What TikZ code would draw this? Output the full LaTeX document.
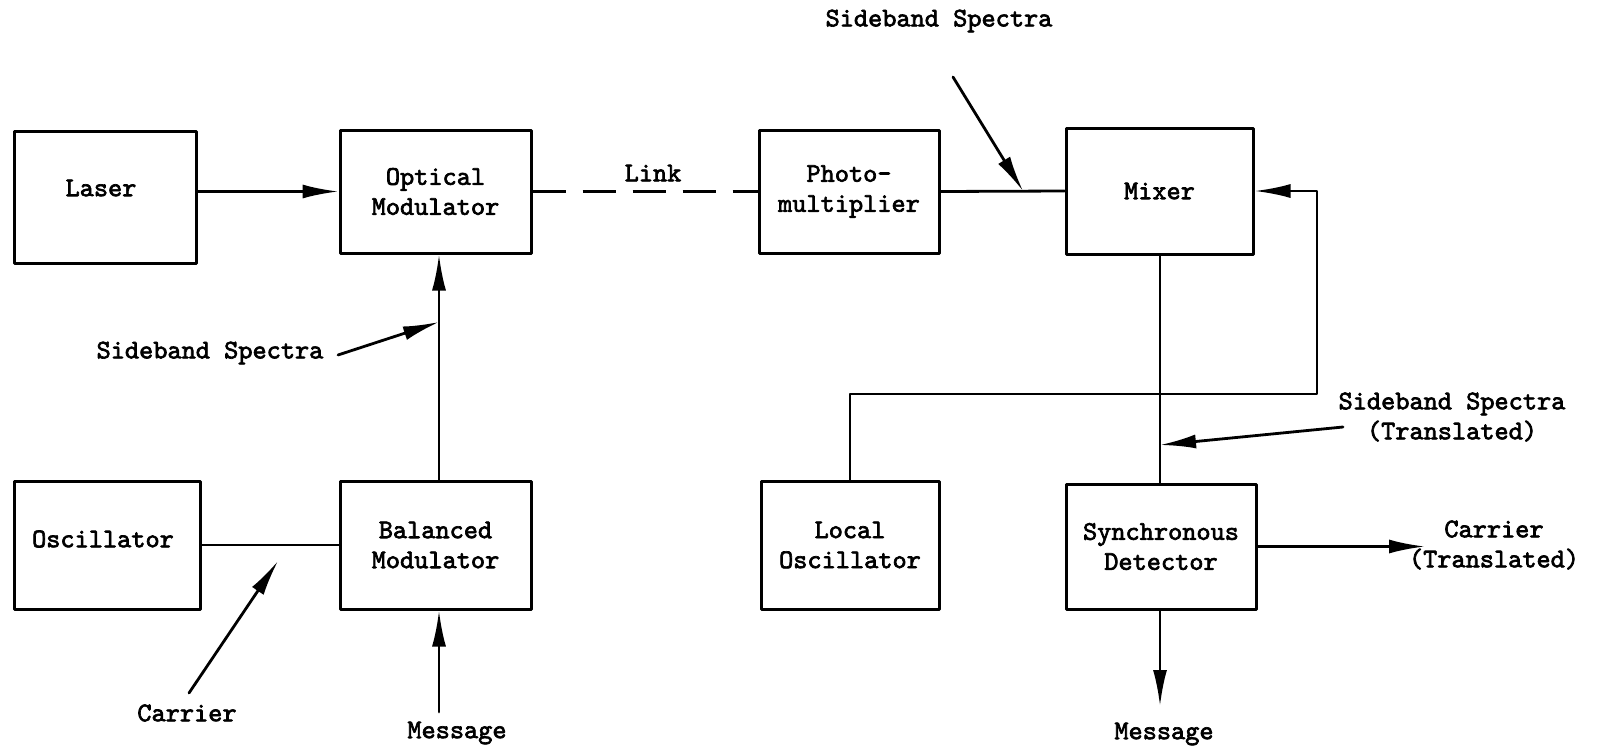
\documentclass[tikz,border=0pt]{standalone}
\usepackage{fontspec}
\newfontfamily\typefont{lmmono10-regular.otf}[FakeBold=2.5]
\usetikzlibrary{arrows.meta}

\newcommand\blkfont{\fontsize{27}{30}\selectfont\typefont}

\tikzset{
  blk/.style={draw, line width=3pt, minimum width=186pt, minimum height=126pt,
              inner sep=0pt, align=center, font=\blkfont},
  lbl/.style={inner sep=0pt, align=center, font=\blkfont},
  sig/.style={line width=2.8pt},
  tip/.style={-{Latex[length=36pt,width=14pt]}},
}

\begin{document}
\begin{tikzpicture}[x=1pt, y=-1pt, line cap=round, line join=round]

  %% ════ 方框 ════
  \node[blk, minimum width=182pt, minimum height=132pt,
        label={[lbl, xshift=-4pt, yshift=9pt]center:Laser}]      (laser)     at (105,197)    {};
  \node[blk, minimum width=191pt, minimum height=123pt] (optmod)    at (435.5,191.5) {Optical\\Modulator};
  \node[blk, minimum width=180pt, minimum height=123pt] (photomult) at (849,191.5)  {Photo-\\multiplier};
  \node[blk, minimum width=187pt]                       (mixer)     at (1159.5,191) {Mixer};
  \node[blk, minimum width=186pt, minimum height=128pt,
        label={[lbl, xshift=-4pt, yshift=6pt]center:Oscillator}] (osc)      at (107,545)    {};
  \node[blk, minimum width=191pt, minimum height=128pt] (balmod)    at (435.5,545)  {Balanced\\Modulator};
  \node[blk, minimum width=178pt, minimum height=128pt] (localosc)  at (850,545)    {Local\\Oscillator};
  \node[blk, minimum width=190pt, minimum height=125pt] (syncdet)   at (1161,546.5) {Synchronous\\Detector};

  %% ════ 标签 ════
  \node[lbl] (lblink)      at (653,173)   {Link};
  \node[lbl] (lbsbtop)     at (939,21)    {Sideband Spectra};
  \node[lbl] (lbsbleft)    at (210,353)   {Sideband Spectra};
  \node[lbl] (lbsbtrans)   at (1452,417)  {Sideband Spectra\\(Translated)};
  \node[lbl] (lbcarrier)   at (187,713)   {Carrier};
  \node[lbl] (lbcarrtrans) at (1494,545)  {Carrier\\(Translated)};
  \node[lbl] (lbmsgleft)   at (457,733)   {Message};
  \node[lbl] (lbmsgright)  at (1164,734)  {Message};

  %% ════ 指示箭头的端点 ════
  \coordinate (sbtoptail)   at (953,77);
  \coordinate (sbtoptip)    at (1023,191);
  \coordinate (sblefttail)  at (338,355);
  \coordinate (sblefttip)   at (439,322);
  \coordinate (sbtrtail)    at (1343,427);
  \coordinate (sbtrtip)     at (1160,445);
  \coordinate (carriertail) at (189,693);
  \coordinate (carriertip)  at (278,561);
  \coordinate (msgltail)    at (439,712);
  \coordinate (msgrtip)     at (1160,706);
  \coordinate (carrtip)     at (1425,545);
  \coordinate (fbcorner)    at (1317,394);

  %% ════ 信号线 ════
  \draw[sig, tip] (laser.east |- optmod.west) -- (optmod.west);
  \draw[sig, dash pattern=on 33pt off 17pt, line cap=butt] (optmod.east) -- (photomult.west);
  \draw[sig] (photomult.east) -- (mixer.west);
  \draw[sig, tip] (balmod.north -| msgltail) -- (optmod.south -| msgltail);
  \draw[sig] (osc.east) -- (balmod.west);
  \draw[sig] (mixer.south -| msgrtip) -- (syncdet.north -| msgrtip);
  \draw[sig, tip] (localosc.north) |- (fbcorner) |- (mixer.east);
  \draw[sig, tip] (syncdet.east) -- (syncdet.east -| carrtip);
  \draw[sig, tip] (syncdet.south -| msgrtip) -- (msgrtip);
  \draw[sig, tip] (msgltail) -- (msgltail |- balmod.south);

  %% ════ 说明箭头 ════
  \draw[sig, tip] (sbtoptail) -- (sbtoptip);
  \draw[sig, tip] (sblefttail) -- (sblefttip);
  \draw[sig, tip] (sbtrtail) -- (sbtrtip);
  \draw[sig, tip] (carriertail) -- (carriertip);

  % 画布固定为 1604 x 750
  \pgfresetboundingbox
  \path[use as bounding box] (0,0) rectangle (1604,750);
\end{tikzpicture}
\end{document}
